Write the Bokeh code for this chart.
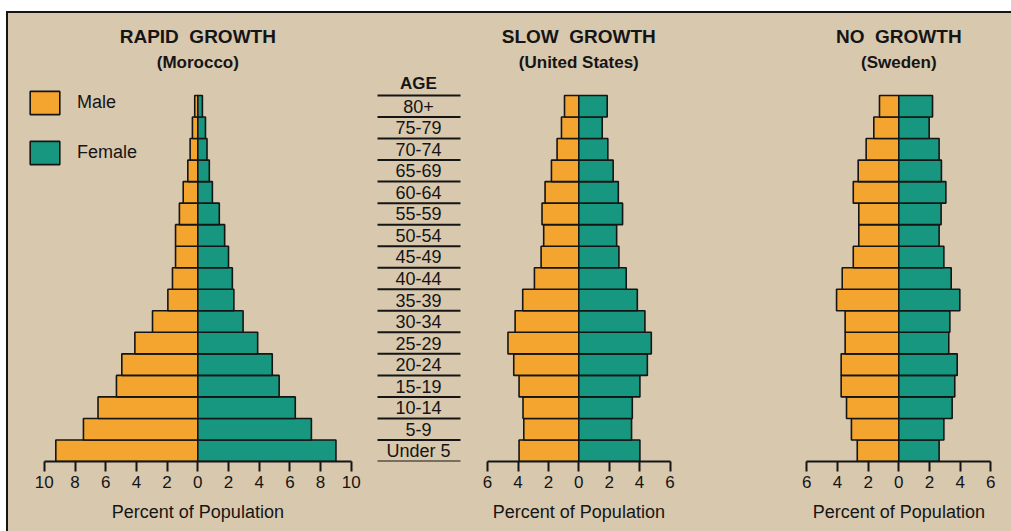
from bokeh.plotting import figure
from bokeh.models import (Range1d, LinearAxis, FixedTicker, Legend, LegendItem,
                          Spacer, Title)
from bokeh.layouts import row, column
from bokeh.embed import file_html
from bokeh.resources import INLINE
from bokeh.core.properties import value

# ---------------- data ----------------
ages = ["Under 5", "5-9", "10-14", "15-19", "20-24", "25-29", "30-34", "35-39",
        "40-44", "45-49", "50-54", "55-59", "60-64", "65-69", "70-74", "75-79", "80+"]

morocco_male = [9.25, 7.45, 6.5, 5.3, 4.95, 4.1, 2.95, 1.95, 1.65, 1.45, 1.45,
                1.2, 0.95, 0.65, 0.5, 0.35, 0.2]
morocco_female = [9.0, 7.4, 6.35, 5.3, 4.85, 3.9, 2.95, 2.35, 2.25, 2.0, 1.75,
                  1.4, 0.95, 0.75, 0.6, 0.5, 0.3]

us_male = [3.93, 3.62, 3.67, 3.93, 4.28, 4.66, 4.19, 3.69, 2.92, 2.48, 2.31,
           2.42, 2.22, 1.8, 1.43, 1.14, 0.94]
us_female = [4.02, 3.47, 3.52, 4.02, 4.51, 4.77, 4.35, 3.85, 3.12, 2.64, 2.49,
             2.88, 2.6, 2.26, 1.91, 1.54, 1.87]

sweden_male = [2.71, 3.09, 3.41, 3.76, 3.76, 3.5, 3.5, 4.06, 3.69, 2.97, 2.61,
               2.61, 2.97, 2.65, 2.13, 1.63, 1.26]
sweden_female = [2.63, 2.94, 3.48, 3.65, 3.81, 3.26, 3.33, 3.98, 3.42, 2.94,
                 2.63, 2.76, 3.07, 2.78, 2.63, 1.98, 2.2]

titles = ["RAPID\u00a0\u00a0GROWTH", "SLOW\u00a0\u00a0GROWTH", "NO\u00a0\u00a0GROWTH"]
subtitles = ["(Morocco)", "(United States)", "(Sweden)"]
tick_max = [10, 6, 6]
axis_title = "Percent of Population"
legend_labels = ["Male", "Female"]
age_header = "AGE"

# ---------------- style / layout ----------------
BG = "#d8c8ae"
ORANGE = "#f3a530"
TEAL = "#17977f"
INK = "#151515"
FONT = "Liberation Sans"

PAGE_TOP = 13
FRAME_BOTTOM_PAGE = 461
H = 531 - PAGE_TOP
FRAME_H = FRAME_BOTTOM_PAGE - PAGE_TOP
BOTTOM_BORDER = H - FRAME_H
ROW_PX = 21.53
Y_START = -0.5
Y_END = Y_START + FRAME_H / ROW_PX
AXIS_TITLE_HALF_W = 86  # half the rendered width of the axis title


def ypage(Y):
    return Y_START + (FRAME_BOTTOM_PAGE - Y) / ROW_PX


def make_panel(page_left, width, zero_page, px_unit, tmax, male, female,
               title, subtitle):
    zero_px = zero_page - page_left
    x_start = -zero_px / px_unit
    x_end = (width - zero_px) / px_unit
    p = figure(width=width, height=H,
               x_range=Range1d(x_start, x_end), y_range=Range1d(Y_START, Y_END),
               output_backend="svg", toolbar_location=None,
               x_axis_location=None, y_axis_location=None,
               min_border_left=0, min_border_right=0, min_border_top=0,
               min_border_bottom=BOTTOM_BORDER,
               background_fill_color=BG, border_fill_color=BG,
               outline_line_color=None)
    p.grid.visible = False

    ys = list(range(len(ages)))
    rm = p.hbar(y=ys, left=[-v for v in male], right=0, height=1.0,
                fill_color=ORANGE, line_color=INK, line_width=1.6)
    rf = p.hbar(y=ys, left=0, right=female, height=1.0,
                fill_color=TEAL, line_color=INK, line_width=1.6)

    ticks = list(range(-tmax, tmax + 1, 2))
    ax = LinearAxis(ticker=FixedTicker(ticks=ticks), bounds=(-tmax, tmax),
                    major_label_overrides={t: str(abs(t)) for t in ticks})
    ax.axis_line_width = 2
    ax.axis_line_color = INK
    ax.major_tick_line_width = 2
    ax.major_tick_line_color = INK
    ax.major_tick_in = 0
    ax.major_tick_out = 10
    ax.minor_tick_in = 0
    ax.minor_tick_out = 0
    ax.major_label_text_font = FONT
    ax.major_label_text_font_size = "17px"
    ax.major_label_text_color = INK
    ax.major_label_standoff = 4
    p.add_layout(ax, "below")

    # axis title centred under the zero of the axis
    p.add_layout(Title(text=axis_title, align="left",
                       offset=zero_px - AXIS_TITLE_HALF_W, standoff=18,
                       text_font=FONT, text_font_size="18px",
                       text_font_style="normal", text_color=INK), "below")

    p.text(x=[0], y=[ypage(36)], text=[title], text_font=value(FONT),
           text_font_style="bold", text_font_size="19px", text_color=INK,
           text_align="center", text_baseline="middle")
    p.text(x=[0], y=[ypage(62)], text=[subtitle], text_font=value(FONT),
           text_font_style="bold", text_font_size="17px", text_color=INK,
           text_align="center", text_baseline="middle")
    return p, rm, rf, zero_page, px_unit


# Morocco
p1, rm1, rf1, z1, u1 = make_panel(8, 362, 197.3, 15.35, tick_max[0],
                                  morocco_male, morocco_female,
                                  titles[0], subtitles[0])
legend = Legend(items=[LegendItem(label=legend_labels[0], renderers=[rm1]),
                       LegendItem(label=legend_labels[1], renderers=[rf1])],
                location=(18, FRAME_BOTTOM_PAGE - 167), glyph_width=37,
                glyph_height=29, spacing=21, label_standoff=14, padding=0,
                margin=0, background_fill_alpha=0, border_line_color=None,
                label_text_font=FONT, label_text_font_size="18px",
                label_text_color=INK)
p1.add_layout(legend)

# United States (with the age column)
p2, rm2, rf2, z2, u2 = make_panel(370, 320, 578.3, 15.2, tick_max[1],
                                  us_male, us_female,
                                  titles[1], subtitles[1])


def x2(page_x):
    return (page_x - z2) / u2


bounds = [i - 0.5 for i in range(len(ages) + 1)]
p2.segment(x0=x2(377), x1=x2(460), y0=bounds, y1=bounds,
           line_color=INK, line_width=2)
p2.text(x=[x2(418)] * len(ages), y=list(range(len(ages))), text=ages,
        text_font=value(FONT), text_font_size="18px", text_color=INK,
        text_align="center", text_baseline="middle")
p2.text(x=[x2(418)], y=[ypage(83)], text=[age_header], text_font=value(FONT),
        text_font_style="bold", text_font_size="17px", text_color=INK,
        text_align="center", text_baseline="middle")

# Sweden
p3, rm3, rf3, z3, u3 = make_panel(690, 321, 898.3, 15.33, tick_max[2],
                                  sweden_male, sweden_female,
                                  titles[2], subtitles[2])

inner = row(p1, p2, p3, spacing=0,
            styles={"background-color": BG,
                    "border-top": "2px solid #151515",
                    "border-left": "2px solid #151515"})
layout = column(Spacer(height=PAGE_TOP - 2, width=10),
                row(Spacer(width=6, height=10), inner, spacing=0),
                spacing=0)
open("out.html", "w").write(file_html(layout, INLINE))
